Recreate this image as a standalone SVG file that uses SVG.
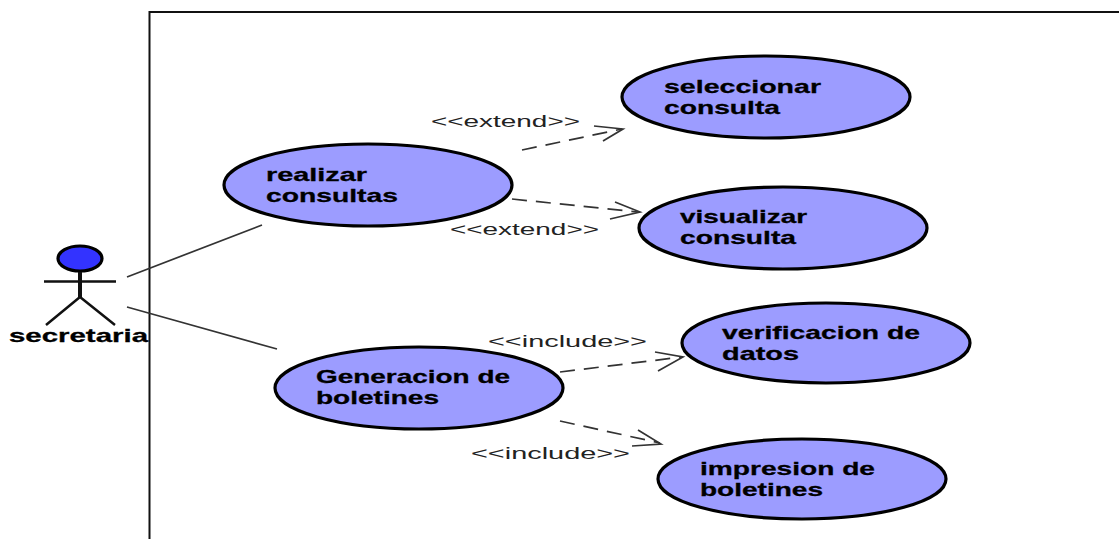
<svg xmlns="http://www.w3.org/2000/svg" width="1119" height="539" viewBox="0 0 1119 539">
<style>
.uc{fill:#9c9cff;stroke:#000;stroke-width:3.2}
.t{font-family:"Liberation Sans",Arial,sans-serif;font-weight:bold;font-size:19px;fill:#000;stroke:#000;stroke-width:.3}
.l{font-family:"Liberation Sans",Arial,sans-serif;font-size:17px;fill:#222}
.c{fill:none;stroke:#333;stroke-width:1.7}
.d{stroke-dasharray:15 9}
</style>
<rect width="1119" height="539" fill="#fff"/>
<path d="M149.500 539V12H1119" fill="none" stroke="#111" stroke-width="2"/>
<g id="actor">
<ellipse cx="80" cy="258.500" rx="22" ry="12.500" fill="#3333ff" stroke="#000" stroke-width="3.200"/>
<path d="M80 272V297" fill="none" stroke="#111" stroke-width="4"/>
<path d="M44 281.500H116M80 297L46 325M80 297L115 325" fill="none" stroke="#111" stroke-width="2.500"/>
<text class="t" x="9" y="342" textLength="139" lengthAdjust="spacingAndGlyphs">secretaria</text>
</g>
<g id="connectors">
<path class="c" d="M127 277L262 225M127 307L277 349"/>
<path class="c d" d="M522 150L622 129"/><path class="c" d="M594 126L623 129L603 141"/>
<path class="c d" d="M512 199L638 212"/><path class="c" d="M615 202L640 212L610 219"/>
<path class="c d" d="M560 372L682 357"/><path class="c" d="M655 352L683 357L658 371"/>
<path class="c d" d="M560 421L660 443"/><path class="c" d="M638 430L661 444L632 446"/>
</g>
<g id="lbl1"><text class="l" x="431" y="127" textLength="149" lengthAdjust="spacingAndGlyphs">&lt;&lt;extend&gt;&gt;</text></g>
<g id="lbl2"><text class="l" x="450" y="235" textLength="149" lengthAdjust="spacingAndGlyphs">&lt;&lt;extend&gt;&gt;</text></g>
<g id="lbl3"><text class="l" x="488" y="347" textLength="159" lengthAdjust="spacingAndGlyphs">&lt;&lt;include&gt;&gt;</text></g>
<g id="lbl4"><text class="l" x="471" y="459" textLength="159" lengthAdjust="spacingAndGlyphs">&lt;&lt;include&gt;&gt;</text></g>
<g id="uc1"><ellipse class="uc" cx="766" cy="97" rx="144" ry="41"/><text class="t" x="664" y="93" textLength="157" lengthAdjust="spacingAndGlyphs">seleccionar</text><text class="t" x="664" y="114" textLength="116" lengthAdjust="spacingAndGlyphs">consulta</text></g>
<g id="uc2"><ellipse class="uc" cx="368" cy="185" rx="144" ry="41"/><text class="t" x="266" y="181" textLength="101" lengthAdjust="spacingAndGlyphs">realizar</text><text class="t" x="266" y="202" textLength="132" lengthAdjust="spacingAndGlyphs">consultas</text></g>
<g id="uc3"><ellipse class="uc" cx="783" cy="228" rx="144" ry="41"/><text class="t" x="680" y="223" textLength="127" lengthAdjust="spacingAndGlyphs">visualizar</text><text class="t" x="680" y="244" textLength="116" lengthAdjust="spacingAndGlyphs">consulta</text></g>
<g id="uc4"><ellipse class="uc" cx="826" cy="343" rx="144" ry="40"/><text class="t" x="722" y="339" textLength="198" lengthAdjust="spacingAndGlyphs">verificacion de</text><text class="t" x="722" y="360" textLength="77" lengthAdjust="spacingAndGlyphs">datos</text></g>
<g id="uc5"><ellipse class="uc" cx="419" cy="388" rx="144" ry="41"/><text class="t" x="316" y="383" textLength="194" lengthAdjust="spacingAndGlyphs">Generacion de</text><text class="t" x="316" y="404" textLength="123" lengthAdjust="spacingAndGlyphs">boletines</text></g>
<g id="uc6"><ellipse class="uc" cx="802" cy="479" rx="144" ry="40"/><text class="t" x="700" y="475" textLength="175" lengthAdjust="spacingAndGlyphs">impresion de</text><text class="t" x="700" y="496" textLength="123" lengthAdjust="spacingAndGlyphs">boletines</text></g>
</svg>
